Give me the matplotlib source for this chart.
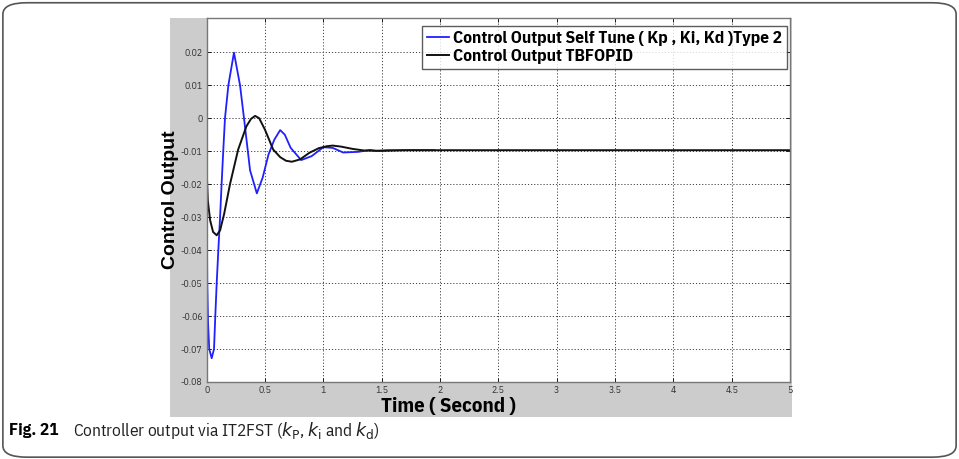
import matplotlib
matplotlib.use('Agg')
import matplotlib.pyplot as plt
from matplotlib.patches import FancyBboxPatch

# data
t_self = [0, 0.005, 0.012, 0.022, 0.043, 0.063, 0.074, 0.086, 0.10, 0.115, 0.128, 0.142,
          0.157, 0.186, 0.234, 0.286, 0.32, 0.372, 0.43, 0.48, 0.53, 0.58, 0.63, 0.67,
          0.72, 0.81, 0.9, 1.0, 1.08, 1.17, 1.3, 1.4, 1.45, 1.55, 1.95]
u_self = [-0.02, -0.05, -0.062, -0.07, -0.0728, -0.07, -0.06, -0.05, -0.04, -0.03, -0.02, -0.01,
          0.0, 0.01, 0.0199, 0.01, 0.0, -0.0158, -0.0228, -0.018, -0.011, -0.0065, -0.0036, -0.005,
          -0.009, -0.0127, -0.0115, -0.0088, -0.009, -0.0104, -0.0102, -0.0096, -0.0099, -0.0097, -0.0097]

t_tbf = [0, 0.01, 0.03, 0.055, 0.086, 0.115, 0.15, 0.2, 0.27, 0.34, 0.38, 0.415, 0.45, 0.5,
         0.57, 0.63, 0.68, 0.73, 0.8, 0.88, 0.96, 1.03, 1.08, 1.15, 1.25, 1.35, 1.5, 1.7, 5]
u_tbf = [-0.016, -0.025, -0.031, -0.0345, -0.0355, -0.034, -0.029, -0.02, -0.0095, -0.0025,
         -0.0002, 0.0007, 0.0, -0.0035, -0.0095, -0.0118, -0.0129, -0.0132, -0.0125, -0.0105,
         -0.0091, -0.0085, -0.0083, -0.0086, -0.0093, -0.0098, -0.0099, -0.0097, -0.0097]

xticks = [0, 0.5, 1, 1.5, 2, 2.5, 3, 3.5, 4, 4.5, 5]
xlabels = ['0', '0.5', '1', '1.5', '2', '2.5', '3', '3.5', '4', '4.5', '5']
yticks = [0.02, 0.01, 0, -0.01, -0.02, -0.03, -0.04, -0.05, -0.06, -0.07, -0.08]
ylabels = ['0.02', '0.01', '0', '-0.01', '-0.02', '-0.03', '-0.04', '-0.05', '-0.06', '-0.07', '-0.08']

narrow = ['IBM Plex Sans Condensed', 'Liberation Sans', 'DejaVu Sans']

fig = plt.figure(figsize=(9.59, 4.59), dpi=100)

# outer rounded frame
fig.patches.append(FancyBboxPatch((0.003, 0.004), 0.994, 0.99, boxstyle='round,pad=0,rounding_size=0.025',
                                  transform=fig.transFigure, fill=False, ec='#555555', lw=1.2))

# grey matlab figure area
bg = fig.add_axes([0.1773, 0.0915, 0.6486, 0.8693], zorder=0)
bg.set_facecolor('#cccccc')
bg.set_xticks([])
bg.set_yticks([])
for s in bg.spines.values():
    s.set_visible(False)

ax = fig.add_axes([0.2155, 0.1678, 0.6083, 0.7923], zorder=1)
ax.set_facecolor('white')
ax.plot(t_self, u_self, color='#2020ff', lw=1.3, label='Control Output Self Tune ( Kp , Ki, Kd )Type 2')
ax.plot(t_tbf, u_tbf, color='#111111', lw=1.4, label='Control Output TBFOPID')

ax.set_xlim(0, 5)
ax.set_ylim(-0.08, 0.0303)
ax.set_xticks(xticks)
ax.set_xticklabels(xlabels, family=narrow, fontsize=7, color='#333333')
ax.set_yticks(yticks)
ax.set_yticklabels(ylabels, family=narrow, fontsize=7, color='#333333')
ax.tick_params(direction='in', top=True, right=True, length=3, width=0.6, pad=3)
ax.grid(True, color='#444444', linestyle=(0, (1.2, 2)), lw=0.7)
for s in ax.spines.values():
    s.set_color('#777777')
    s.set_linewidth(1.0)

ax.set_xlabel('Time ( Second )', family=narrow, fontsize=15, fontweight='bold')
ax.xaxis.set_label_coords(0.415, -0.04)
ax.set_ylabel('Control Output', family=['Liberation Sans', 'DejaVu Sans'], fontsize=14, fontweight='bold')
ax.yaxis.set_label_coords(-0.047, 0.5)

leg = ax.legend(loc='upper right', bbox_to_anchor=(0.998, 0.985), frameon=True, fancybox=False,
                prop={'family': narrow, 'size': 12.5, 'weight': 'bold'},
                handlelength=1.3, handletextpad=0.2, borderpad=0.3, labelspacing=0.15, borderaxespad=0.1)
leg.get_frame().set_edgecolor('#333333')
leg.get_frame().set_linewidth(1.0)

fig.text(0.009, 0.062, 'Fig. 21', family=narrow, fontsize=12.5, fontweight='bold', va='center')
fig.text(0.076, 0.062, r'Controller output via IT2FST ($k_\mathrm{P}$, $k_\mathrm{i}$ and $k_\mathrm{d}$)',
         family=narrow, fontsize=12.5, va='center', color='#222222')

fig.savefig('out.png', dpi=100)
